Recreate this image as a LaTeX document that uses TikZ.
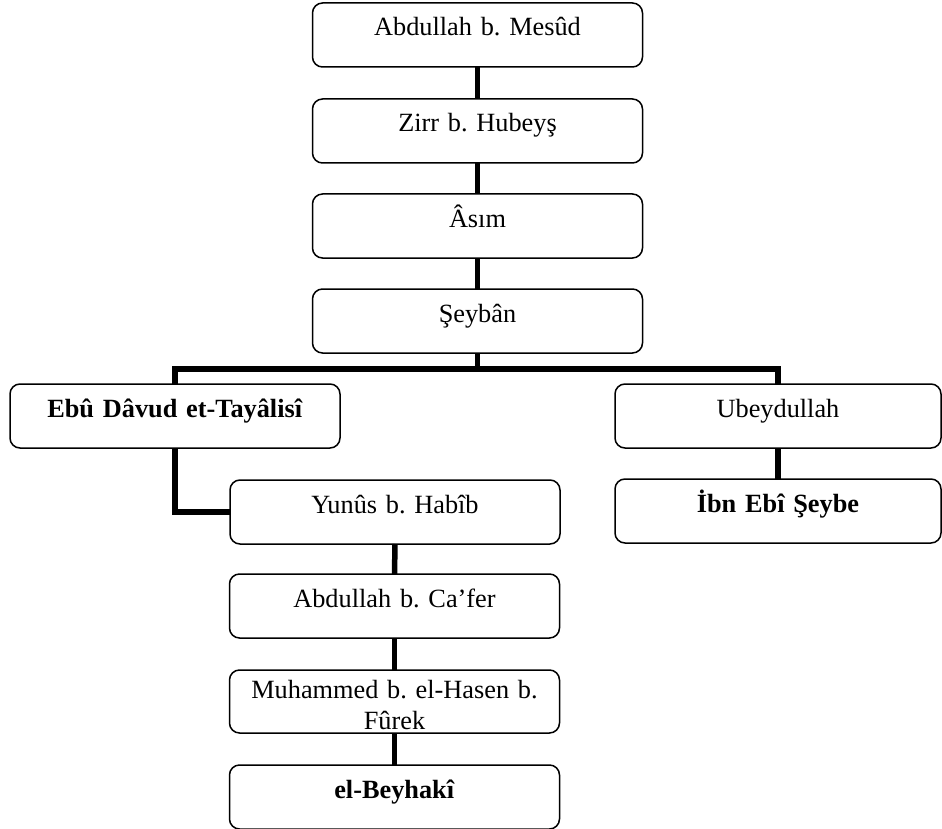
\documentclass[tikz,border=0pt]{standalone}
\usepackage{fontspec}
\setmainfont{Liberation Serif}
\frenchspacing
\begin{document}
\begin{tikzpicture}[x=1pt,y=-1pt,
  box/.style={draw, line width=1.5pt, rounded corners=10pt, rectangle, anchor=north,
    outer sep=0pt, inner xsep=5pt, inner ysep=0pt, text width=320pt, align=center,
    text height=33pt, text depth=31pt,
    font=\fontsize{26.3}{31}\selectfont\frenchspacing},
  rbox/.style={box, text width=316pt},
  conn/.style={line width=5.5pt, line join=miter, line cap=butt}]
\useasboundingbox (0,0) rectangle (942,829);
\node[box] (mesud) at (477.5,3) {Abdullah b. Mesûd};
\node[box] (zirr) at (477.5,99) {Zirr b. Hubeyş};
\node[box] (asim) at (477.5,194) {Âsım};
\node[box] (seyban) at (477.5,289) {Şeybân};
\node[box] (ebu) at (175,384) {\textbf{Ebû Dâvud et-Tayâlisî}};
\node[rbox] (ubey) at (778,384) {Ubeydullah};
\node[rbox] (ibn) at (778,479) {\textbf{İbn Ebî Şeybe}};
\node[box] (yunus) at (395,480) {Yunûs b. Habîb};
\node[box] (cafer) at (394.5,574) {Abdullah b. Ca’fer};
\node[box, text height=28pt, text depth=35pt] (muh) at (394.5,670) {Muhammed b. el-Hasen b.\\Fûrek};
\node[box] (beyh) at (394.5,765) {\textbf{el-Beyhakî}};
\coordinate (bar) at (477.5,369);
\draw[conn] (mesud.south) -- (zirr.north);
\draw[conn] (zirr.south) -- (asim.north);
\draw[conn] (asim.south) -- (seyban.north);
\draw[conn] (seyban.south) -- (bar);
\draw[conn] (ebu.north) |- (bar) -| (ubey.north);
\draw[conn] (ubey.south) -- (ibn.north);
\draw[conn] (ebu.south) |- (yunus.west);
\draw[conn] (yunus.south) -- (cafer.north);
\draw[conn] (cafer.south) -- (muh.north);
\draw[conn] (muh.south) -- (beyh.north);
\end{tikzpicture}
\end{document}
